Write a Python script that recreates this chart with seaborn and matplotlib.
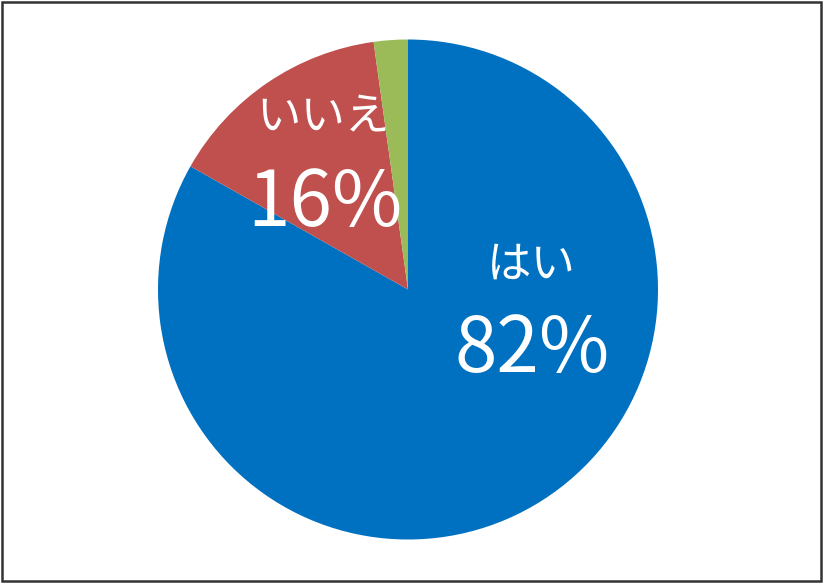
import matplotlib
matplotlib.use('Agg')
import matplotlib.pyplot as plt
import seaborn as sns

# slice shares (clockwise from 12 o'clock)
answers = ['はい', 'いいえ', 'その他']
shares = [83.2, 14.6, 2.2]
shown_pct = ['82%', '16%', '']
colors = ['#0070C0', '#C0504D', '#9BBB59']

sns.set_theme(style='white')
plt.rcParams['font.family'] = ['Noto Sans CJK JP', 'DejaVu Sans']

W, H = 823, 583
fig = plt.figure(figsize=(W / 100, H / 100), dpi=100)
fig.patch.set_facecolor('white')

# pie centre ~ (408, 289.5) px, radius ~ 250 px
cx, cy, r = 408, 289.5, 250
ax = fig.add_axes([(cx - r) / W, (H - cy - r) / H, 2 * r / W, 2 * r / H])
ax.pie(shares, colors=colors, startangle=90, counterclock=False,
       radius=1, wedgeprops={'linewidth': 0})
ax.set_xlim(-1, 1)
ax.set_ylim(-1, 1)
ax.set_aspect('equal')
ax.axis('off')


def px(x, y):
    return (x - cx) / r, (cy - y) / r


# name labels and percentages
name_pos = [(531, 265), (323, 117)]
pct_pos = [(532, 350), (325, 204)]
for i in range(2):
    ax.text(*px(*name_pos[i]), answers[i], color='white', fontsize=32,
            ha='center', va='center')
    ax.text(*px(*pct_pos[i]), shown_pct[i], color='white', fontsize=55,
            ha='center', va='center')

# outer frame of the figure
frame = plt.Rectangle((0.002, 0.003), 0.996, 0.994, transform=fig.transFigure,
                      fill=False, edgecolor='#333333', linewidth=1.8)
fig.add_artist(frame)

fig.savefig('out.png', dpi=100, facecolor='white')
